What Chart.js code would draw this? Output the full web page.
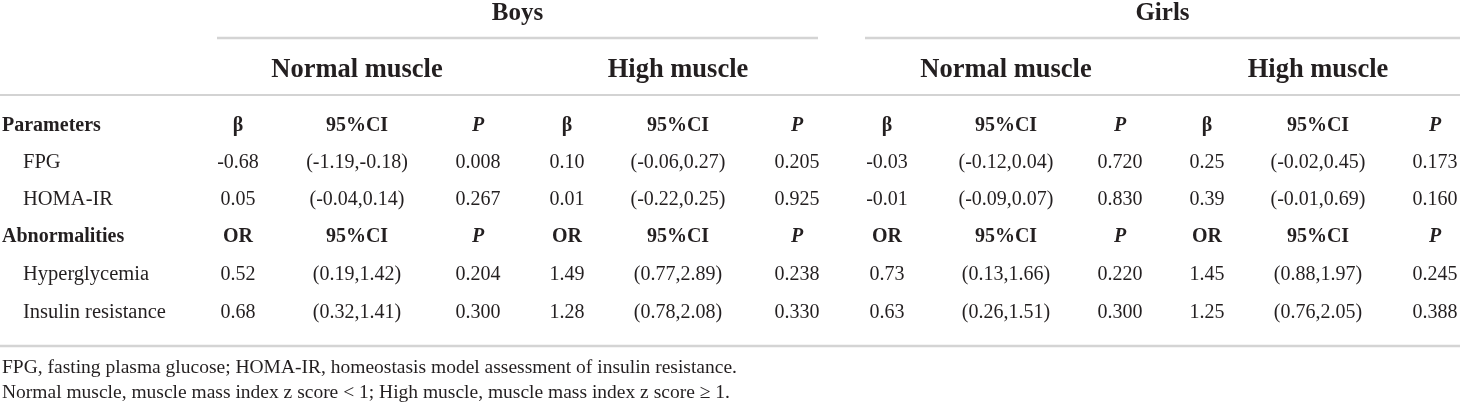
<!DOCTYPE html>
<html>
<head>
<meta charset="utf-8">
<script src="https://cdn.jsdelivr.net/npm/chart.js@4.4.1/dist/chart.umd.min.js"></script>
<style>
  html, body { margin: 0; padding: 0; background: #fff; }
  canvas { display: block; }
</style>
</head>
<body>
<canvas id="tableChart" width="1460" height="405"></canvas>
<script>
// header labels
const sexes = ['Boys', 'Girls'];
const muscleGroups = ['Normal muscle', 'High muscle'];
const paramHeads = ['β', '95%CI', 'P'];
const abnHeads = ['OR', '95%CI', 'P'];
const rowLabels = ['Parameters', 'FPG', 'HOMA-IR', 'Abnormalities', 'Hyperglycemia', 'Insulin resistance'];

// values, one entry per group: boys normal, boys high, girls normal, girls high
const fpgBeta = [-0.68, 0.10, -0.03, 0.25];
const fpgCI = [[-1.19, -0.18], [-0.06, 0.27], [-0.12, 0.04], [-0.02, 0.45]];
const fpgP = [0.008, 0.205, 0.720, 0.173];

const homaBeta = [0.05, 0.01, -0.01, 0.39];
const homaCI = [[-0.04, 0.14], [-0.22, 0.25], [-0.09, 0.07], [-0.01, 0.69]];
const homaP = [0.267, 0.925, 0.830, 0.160];

const hyperOR = [0.52, 1.49, 0.73, 1.45];
const hyperCI = [[0.19, 1.42], [0.77, 2.89], [0.13, 1.66], [0.88, 1.97]];
const hyperP = [0.204, 0.238, 0.220, 0.245];

const insulinOR = [0.68, 1.28, 0.63, 1.25];
const insulinCI = [[0.32, 1.41], [0.78, 2.08], [0.26, 1.51], [0.76, 2.05]];
const insulinP = [0.300, 0.330, 0.300, 0.388];

const footnotes = [
    'FPG, fasting plasma glucose; HOMA-IR, homeostasis model assessment of insulin resistance.',
    'Normal muscle, muscle mass index z score < 1; High muscle, muscle mass index z score ≥ 1.'
];

// layout (scale units = canvas pixels)
const colX = [238, 357, 478, 567, 678, 797, 887, 1006, 1120, 1207, 1318, 1435];
const rowY = [126, 163, 200, 237, 275, 313];
const sexSpans = [[217, 818], [865, 1460]];
const sexY = 14, sexRuleY = 38, muscleY = 70, headRuleY = 95, bottomRuleY = 346;
const footY = [368, 393];
const labelX = 2, indentX = 23;

const FONT = '"Liberation Serif", "Times New Roman", serif';
const fonts = {
    sex: 'bold 25px ' + FONT,
    muscle: 'bold 26.5px ' + FONT,
    head: 'bold 20px ' + FONT,
    headItalic: 'italic bold 20px ' + FONT,
    label: '20.5px ' + FONT,
    body: '20px ' + FONT,
    foot: '19.5px ' + FONT
};

// build the cell points
const cells = [];
function addCell(x, y, text, font, align) {
    cells.push({ x: x, y: y, _text: text, _font: font, _align: align || 'center' });
}

sexes.forEach((s, i) => {
    addCell((sexSpans[i][0] + sexSpans[i][1]) / 2, sexY, s, fonts.sex);
});
for (let g = 0; g < 4; g++) {
    addCell(colX[g * 3 + 1], muscleY, muscleGroups[g % 2], fonts.muscle);
}

const rows = [
    null,
    [fpgBeta, fpgCI, fpgP],
    [homaBeta, homaCI, homaP],
    null,
    [hyperOR, hyperCI, hyperP],
    [insulinOR, insulinCI, insulinP]
];

rowLabels.forEach((label, r) => {
    const isHead = rows[r] === null;
    addCell(isHead ? labelX : indentX, rowY[r], label, isHead ? fonts.head : fonts.label, 'left');
    for (let g = 0; g < 4; g++) {
        if (isHead) {
            const heads = r === 0 ? paramHeads : abnHeads;
            heads.forEach((h, k) => {
                addCell(colX[g * 3 + k], rowY[r], h, h === 'P' ? fonts.headItalic : fonts.head);
            });
        } else {
            const [est, ci, p] = rows[r];
            addCell(colX[g * 3], rowY[r], est[g].toFixed(2), fonts.body);
            addCell(colX[g * 3 + 1], rowY[r], '(' + ci[g][0].toFixed(2) + ',' + ci[g][1].toFixed(2) + ')', fonts.body);
            addCell(colX[g * 3 + 2], rowY[r], p[g].toFixed(3), fonts.body);
        }
    }
});

footnotes.forEach((f, i) => addCell(labelX, footY[i], f, fonts.foot, 'left'));

// rules: [x0, x1, y, width, colour]
const rules = [
    [sexSpans[0][0], sexSpans[0][1], sexRuleY, 2.5, '#d4d4d4'],
    [sexSpans[1][0], sexSpans[1][1], sexRuleY, 2.5, '#d4d4d4'],
    [0, 1460, headRuleY, 1.2, '#a8a8a8'],
    [0, 1460, bottomRuleY, 2.5, '#d4d4d4']
];

const tablePlugin = {
    id: 'tableText',
    beforeDatasetsDraw(chart) {
        const ctx = chart.ctx;
        const xs = chart.scales.x, ys = chart.scales.y;
        ctx.save();
        rules.forEach(([x0, x1, y, w, c]) => {
            ctx.strokeStyle = c;
            ctx.lineWidth = w;
            ctx.beginPath();
            ctx.moveTo(xs.getPixelForValue(x0), ys.getPixelForValue(y));
            ctx.lineTo(xs.getPixelForValue(x1), ys.getPixelForValue(y));
            ctx.stroke();
        });
        ctx.restore();
    },
    afterDatasetsDraw(chart) {
        const ctx = chart.ctx;
        const meta = chart.getDatasetMeta(0);
        ctx.save();
        ctx.fillStyle = '#231f20';
        ctx.textBaseline = 'middle';
        meta.data.forEach((pt, i) => {
            const c = cells[i];
            ctx.font = c._font;
            ctx.textAlign = c._align;
            ctx.fillText(c._text, pt.x, pt.y);
        });
        ctx.restore();
    }
};

new Chart(document.getElementById('tableChart'), {
    type: 'scatter',
    data: {
        datasets: [{
            data: cells,
            pointRadius: 0,
            pointHoverRadius: 0
        }]
    },
    options: {
        responsive: false,
        animation: false,
        events: [],
        layout: { padding: 0 },
        plugins: {
            legend: { display: false },
            tooltip: { enabled: false },
            title: { display: false }
        },
        scales: {
            x: { type: 'linear', display: false, min: 0, max: 1460 },
            y: { type: 'linear', display: false, min: 0, max: 405, reverse: true }
        }
    },
    plugins: [tablePlugin]
});
</script>
</body>
</html>
